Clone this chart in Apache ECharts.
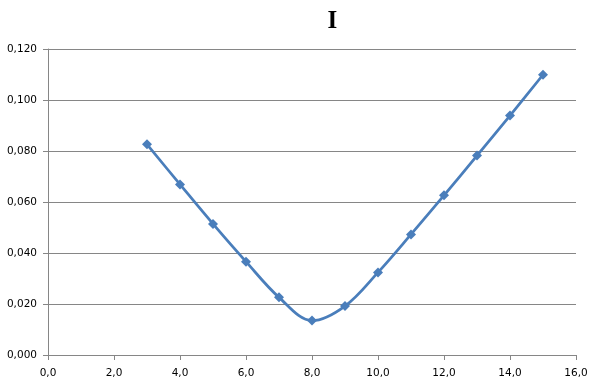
<!DOCTYPE html>
<html>
<head>
<meta charset="utf-8">
<script src="https://cdn.jsdelivr.net/npm/echarts@6/dist/echarts.min.js"></script>
<style>
html,body{margin:0;padding:0;background:#fff;}
#c{width:598px;height:386px;}
</style>
</head>
<body>
<div id="c"></div>
<script>
const titleText = "I";
const xValues = [3, 4, 5, 6, 7, 8, 9, 10, 11, 12, 13, 14, 15];
const yValues = [0.0826, 0.0669, 0.0514, 0.0366, 0.0226, 0.0135, 0.0192, 0.0324, 0.0473, 0.0626, 0.0782, 0.0939, 0.1099];

const chart = echarts.init(document.getElementById('c'), null, {renderer: 'canvas'});
const gridColor = '#868686';
chart.setOption({
  animation: false,
  backgroundColor: '#ffffff',
  title: {
    text: titleText,
    left: 322.5,
    top: 4,
    textStyle: {fontFamily: 'Liberation Serif', fontWeight: 'bold', fontSize: 25, color: '#000'}
  },
  grid: {left: 48, right: 22, top: 49, bottom: 31, containLabel: false},
  xAxis: {
    type: 'value', min: 0, max: 16, interval: 2,
    axisLine: {show: true, lineStyle: {color: gridColor, width: 1}},
    axisTick: {show: true, length: 5, lineStyle: {color: gridColor}},
    splitLine: {show: false},
    axisLabel: {
      margin: 13, color: '#000', fontFamily: 'DejaVu Sans', fontSize: 10.5,
      formatter: v => v.toFixed(1).replace('.', ',')
    }
  },
  yAxis: {
    type: 'value', min: 0, max: 0.12, interval: 0.02,
    axisLine: {show: true, lineStyle: {color: gridColor, width: 1}},
    axisTick: {show: true, length: 5, lineStyle: {color: gridColor}},
    splitLine: {show: true, lineStyle: {color: gridColor, width: 1}},
    axisLabel: {
      margin: 11, color: '#000', fontFamily: 'DejaVu Sans', fontSize: 10.5,
      padding: [2, 0, 0, 0],
      formatter: v => v.toFixed(3).replace('.', ',')
    }
  },
  series: [{
    type: 'line',
    data: xValues.map((x, i) => [x, yValues[i]]),
    smooth: 0.35,
    symbol: 'diamond',
    symbolSize: 10,
    itemStyle: {color: '#4A7EBB'},
    lineStyle: {color: '#4A7EBB', width: 2.75}
  }]
});
</script>
</body>
</html>
